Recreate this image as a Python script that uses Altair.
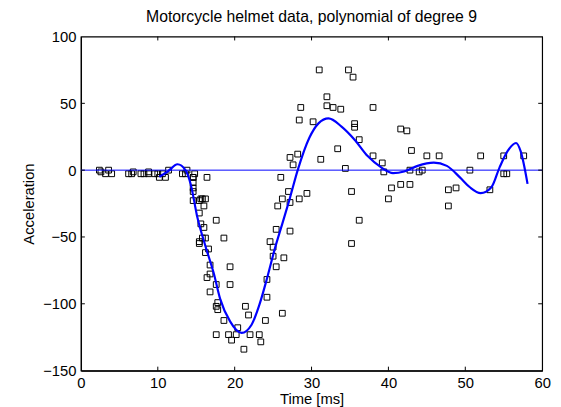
import altair as alt
import pandas as pd

TIME = [2.4, 2.6, 3.2, 3.6, 4.0, 6.2, 6.6, 6.8, 7.8, 8.2, 8.8, 8.8, 9.6, 10.0, 10.2, 10.6, 11.0, 11.4,
        13.2, 13.6, 13.8, 14.6, 14.6, 14.6, 14.6, 14.6, 14.6, 14.8, 15.4, 15.4, 15.4, 15.4, 15.6, 15.6,
        15.8, 15.8, 16.0, 16.0, 16.2, 16.2, 16.2, 16.4, 16.4, 16.6, 16.8, 16.8, 16.8, 17.6, 17.6, 17.6,
        17.6, 17.8, 17.8, 18.6, 18.6, 19.2, 19.4, 19.4, 19.6, 20.2, 20.4, 21.2, 21.4, 21.8, 22.0, 23.2,
        23.4, 24.0, 24.2, 24.2, 24.6, 25.0, 25.0, 25.4, 25.4, 25.6, 26.0, 26.2, 26.2, 26.4, 27.0, 27.2,
        27.2, 27.2, 27.6, 28.2, 28.4, 28.4, 28.6, 29.4, 30.2, 31.0, 31.2, 32.0, 32.0, 32.8, 33.4, 33.8,
        34.4, 34.8, 35.2, 35.2, 35.4, 35.6, 35.6, 36.2, 36.2, 38.0, 38.0, 39.2, 39.4, 40.0, 40.4, 41.6,
        41.6, 42.4, 42.8, 42.8, 43.0, 44.0, 44.4, 45.0, 46.6, 47.8, 47.8, 48.8, 50.6, 52.0, 53.2, 55.0,
        55.0, 55.4, 57.6]
ACCEL = [0.0, -1.3, -2.7, 0.0, -2.7, -2.7, -2.7, -1.3, -2.7, -2.7, -1.3, -2.7, -2.7, -2.7, -5.4, -2.7,
         -5.4, 0.0, -2.7, -2.7, 0.0, -13.3, -5.4, -5.4, -9.3, -16.0, -22.8, -2.7, -22.8, -32.1, -53.5,
         -54.9, -40.2, -21.5, -21.5, -50.8, -42.9, -26.8, -21.5, -50.8, -61.7, -5.4, -80.4, -59.0, -71.0,
         -91.1, -77.7, -37.5, -85.6, -123.1, -101.9, -99.1, -104.4, -112.5, -50.8, -123.1, -85.6, -72.3,
         -127.2, -123.1, -117.9, -134.0, -101.9, -108.4, -123.1, -123.1, -128.5, -112.5, -95.1, -81.8,
         -53.5, -64.4, -57.6, -72.3, -44.3, -26.8, -5.4, -107.1, -21.5, -65.6, -16.0, -45.6, -24.2, 9.5,
         4.0, 12.0, -21.5, 37.5, 46.9, -17.4, 36.2, 75.0, 8.1, 54.9, 48.2, 46.9, 16.0, 45.6, 1.3, 75.0,
         -16.0, -54.9, 69.6, 34.8, 32.1, -37.5, 22.8, 46.9, 10.7, 5.4, -1.3, -21.5, -13.3, 30.8, -10.7,
         29.4, 0.0, -10.7, 14.7, -1.3, 0.0, 10.7, 10.7, -26.8, -14.7, -13.3, 0.0, 10.7, -14.7, -2.7,
         10.7, -2.7, 10.7]

FIT_T = [10.2, 11.3, 12.56, 13.6, 14.27, 15.13, 16.2, 17.27, 18.1, 19.4, 20.9, 22.2, 23.2, 24.3,
         25.2, 26.2, 27.1, 28.2, 29.7, 30.9, 32.2, 33.9, 35.6, 37.3, 39.1, 40.6, 42.05, 43.8, 45.9,
         47.6, 49.3, 50.6, 52.0, 53.4, 54.45, 55.5, 56.6, 57.2, 58.1]
FIT_A = [-4.9, -1.0, 4.4, 0.0, -10.3, -34.8, -56.9, -77.0, -96.1, -113.2, -121.8, -115.7, -101.0,
         -79.0, -59.3, -40.0, -22.6, 0.0, 24.0, 35.0, 38.7, 32.6, 22.8, 10.5, 1.9, -2.2, -1.0, 3.2, 5.6,
         3.2, -5.4, -12.8, -17.2, -12.8, 1.9, 14.2, 20.3, 14.2, -10.3]

X_LABELS = [0, 10, 20, 30, 40, 50, 60]
Y_LABELS = [-150, -100, -50, 0, 50, 100]
X_INNER = [10, 20, 30, 40, 50]
Y_INNER = [-100, -50, 0, 50]

W, H = 468, 339
FONT = "Liberation Sans"

pts = pd.DataFrame({"t": TIME, "a": ACCEL})
fit = pd.DataFrame({"t": FIT_T, "a": FIT_A})
zero_df = pd.DataFrame({"a": [0]})
xt = pd.DataFrame({"t": X_INNER})
yt = pd.DataFrame({"a": Y_INNER})

xs = alt.Scale(domain=[0, 60], nice=False, zero=False)
ys = alt.Scale(domain=[-150, 100], nice=False)

xaxis = alt.Axis(values=X_LABELS, title="Time [ms]", ticks=False, grid=False,
                 labelFontSize=15, titleFontSize=15, labelFont=FONT, titleFont=FONT,
                 labelColor="black", titleColor="black", titleFontWeight="normal",
                 labelPadding=5, titlePadding=1, domainColor="black", labelFlush=False)
yaxis = alt.Axis(values=Y_LABELS, title="Acceleration", ticks=False, grid=False,
                 labelFontSize=15, titleFontSize=15, labelFont=FONT, titleFont=FONT,
                 labelColor="black", titleColor="black", titleFontWeight="normal",
                 labelPadding=5, titlePadding=6, domainColor="black", labelFlush=False)

points = alt.Chart(pts).mark_point(shape="square", filled=False, color="black", size=34,
                                   strokeWidth=1, opacity=1).encode(
    x=alt.X("t:Q", scale=xs, axis=xaxis),
    y=alt.Y("a:Q", scale=ys, axis=yaxis),
)

zero = alt.Chart(zero_df).mark_rule(color="#0000ff", strokeWidth=1).encode(
    y=alt.Y("a:Q", scale=ys)
)

curve = alt.Chart(fit).mark_line(color="#0000ff", strokeWidth=2.2, interpolate="monotone").encode(
    x=alt.X("t:Q", scale=xs),
    y=alt.Y("a:Q", scale=ys),
)

top_ticks = alt.Chart(xt).mark_rule(color="black", strokeWidth=1).encode(
    x=alt.X("t:Q", scale=xs), y=alt.value(0), y2=alt.value(4))
bot_ticks = alt.Chart(xt).mark_rule(color="black", strokeWidth=1).encode(
    x=alt.X("t:Q", scale=xs), y=alt.value(H), y2=alt.value(H - 4))
left_ticks = alt.Chart(yt).mark_rule(color="black", strokeWidth=1).encode(
    y=alt.Y("a:Q", scale=ys), x=alt.value(0), x2=alt.value(4))
right_ticks = alt.Chart(yt).mark_rule(color="black", strokeWidth=1).encode(
    y=alt.Y("a:Q", scale=ys), x=alt.value(W - 4), x2=alt.value(W))

chart = alt.layer(points, zero, curve, top_ticks, bot_ticks, left_ticks, right_ticks).properties(
    width=W, height=H,
    title=alt.TitleParams("Motorcycle helmet data, polynomial of degree 9", fontSize=16,
                          fontWeight="normal", font=FONT, color="black", anchor="middle", offset=5),
    autosize=alt.AutoSizeParams(type="none"),
    padding={"left": 74, "top": 26, "right": 11, "bottom": 34},
).configure_view(stroke="black", strokeWidth=1.2).configure_axis(domainWidth=1.2)

chart.save("out.html", embed_options={"renderer": "svg", "actions": False})
